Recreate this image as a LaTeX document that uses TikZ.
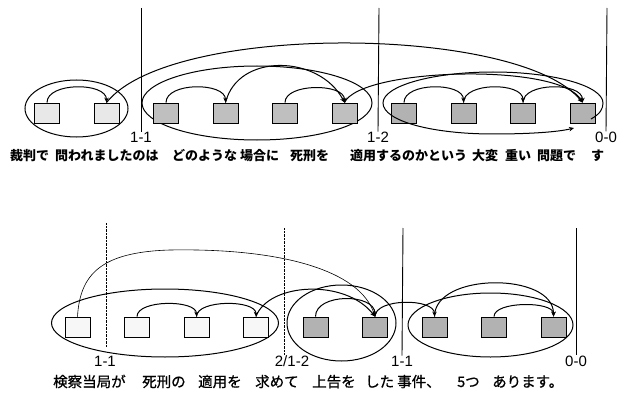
\documentclass[tikz,border=0pt]{standalone}
\usepackage{fontspec}
\newfontfamily\jp{Noto Sans CJK JP}
\newfontfamily\jpm[FakeBold=0.8]{Noto Sans CJK JP}
\newfontfamily\lab{Liberation Sans}
\usetikzlibrary{arrows.meta}
\begin{document}
\begin{tikzpicture}[x=1pt,y=-1pt,
  bx/.style={draw, line width=0.8pt, minimum width=25pt, minimum height=20pt, inner sep=0pt},
  lite/.style={bx, fill=gray!18},
  pale/.style={bx, fill=gray!6},
  mid/.style={bx, fill=gray!50},
  dark/.style={bx, fill=gray!60},
  ln/.style={line width=1pt},
  thin/.style={line width=0.6pt},
  arr/.style={ln, -{Stealth[length=5pt,width=4.5pt]}},
  tarr/.style={thin, -{Stealth[length=5pt,width=4.5pt]}},
  vline/.style={line width=0.9pt},
  dline/.style={line width=0.9pt, dash pattern=on 0.7pt off 0.7pt},
  lblA/.style={font=\lab\fontsize{15}{15}\selectfont, inner sep=0pt},
  lblB/.style={font=\lab\fontsize{15}{15}\selectfont, inner sep=0pt},
  tt/.style={font=\jp\bfseries\fontsize{13}{13}\selectfont, inner sep=0pt, anchor=base west},
  bt/.style={font=\jpm\fontsize{14.5}{14.5}\selectfont, inner sep=0pt, anchor=base west}]
\useasboundingbox (0,0) rectangle (618,393);
\fill[color=white] (0,0) rectangle (618,393);

% ---------------- top diagram ----------------
\node[lblA] (ta) at (141,137) {1-1};
\node[lblA] (tb) at (378,137) {1-2};
\node[lblA] (tc) at (606,137) {0-0};
\draw[vline] (141,8) -- (ta.north);
\draw[vline] (379,8) -- (tb.north);
\draw[vline] (607,8) -- (tc.north);

\draw[ln] (76.5,108.5) ellipse [x radius=51.5pt, y radius=28.5pt];
\draw[ln] (257,103) ellipse [x radius=115pt, y radius=37pt];

\node[lite] (t1) at (47,113) {};
\node[lite] (t2) at (106.5,113) {};
\node[mid] (t3) at (166,113) {};
\node[mid] (t4) at (225.5,113) {};
\node[mid] (t5) at (285,113) {};
\node[mid] (t6) at (344.5,113) {};
\node[dark] (t7) at (404,113) {};
\node[dark] (t8) at (463.5,113) {};
\node[dark] (t9) at (523,113) {};
\node[dark] (t10) at (582.5,113) {};

\coordinate (e3s) at (591,119);
\draw[arr] (e3s) .. controls (600,114) and (603,109) .. (603,103)
  .. controls (603,86) and (554,72) .. (493,72)
  .. controls (432,72) and (383,86) .. (383,103)
  .. controls (383,121) and (432,134) .. (493,134)
  .. controls (530,134) and (558,132) .. (574,128);

\draw[arr] (t1.north) .. controls (47,82) and (106.5,82) .. (t2.north);
\draw[arr] (t3.north) .. controls (166,82) and (225.5,82) .. (t4.north);
\draw[arr] (t5.north) .. controls (285,83) and (344.5,83) .. (t6.north);
\draw[arr] (t7.north) .. controls (404,82) and (463.5,82) .. (t8.north);
\draw[arr] (t8.north) .. controls (463.5,82) and (523,82) .. (t9.north);
\draw[arr] (t9.north) .. controls (523,82) and (582.5,82) .. (t10.north);
\draw[arr] (t4.north) .. controls (238,52) and (320,55) .. (t6.north);
\draw[arr] (t6.north) .. controls (360,68) and (560,62) .. (t10.north);
\draw[arr] (t2.north) .. controls (170,22) and (520,25) .. (t10.north);

\node[tt] (w1) at (10,160) {裁判で};
\node[tt] (w2) at (55,160) {問われましたのは};
\node[tt] (w3) at (172,160) {どのような};
\node[tt] (w4) at (240,160) {場合に};
\node[tt] (w5) at (290,160) {死刑を};
\node[tt] (w6) at (350,160) {適用するのかという};
\node[tt] (w7) at (472,160) {大変};
\node[tt] (w8) at (505,160) {重い};
\node[tt] (w9) at (537,160) {問題で};
\node[tt] (w10) at (591,160) {す};

% ---------------- bottom diagram ----------------
\node[lblB] (ba) at (105,361) {1-1};
\node[lblB] (bb) at (292,361) {2/1-2};
\node[lblB] (bc) at (402,361) {1-1};
\node[lblB] (bd) at (576,361) {0-0};
\coordinate (d1e) at (106,347);
\coordinate (d2e) at (284,355);
\draw[dline] (106,223) -- (d1e);
\draw[dline] (284,228) -- (d2e);
\draw[vline] (403,228) -- (bc.north);
\draw[vline] (576,228) -- (bd.north);

\draw[ln] (165,323) ellipse [x radius=113.5pt, y radius=34pt];
\draw[ln] (341.5,323) ellipse [x radius=54.5pt, y radius=38pt];
\draw[ln] (490.5,325) ellipse [x radius=82.5pt, y radius=32pt];

\node[pale] (c1) at (77.5,327) {};
\node[pale] (c2) at (137,327) {};
\node[pale] (c3) at (196.5,327) {};
\node[pale] (c4) at (256,327) {};
\node[dark] (c5) at (315.5,327) {};
\node[dark] (c6) at (375,327) {};
\node[dark] (c7) at (434.5,327) {};
\node[dark] (c8) at (494,327) {};
\node[dark] (c9) at (553.5,327) {};

\draw[arr] (c2.north) .. controls (137,299.5) and (196.5,299.5) .. (c3.north);
\draw[arr] (c3.north) .. controls (196.5,299.5) and (256,299.5) .. (c4.north);
\draw[arr] (c5.north) .. controls (315.5,293) and (375,293) .. (c6.north);
\draw[arr] (c6.north) .. controls (375,298) and (434.5,298) .. (c7.north);
\draw[arr] (c8.north) .. controls (494,301) and (553.5,301) .. (c9.north);
\draw[arr] (c7.north) .. controls (434.5,272) and (553.5,272) .. (c9.north);
\draw[arr] (c4.north) .. controls (268,283) and (345,278) .. (c6.north);
\draw[tarr] (c1.north) .. controls (80,275) and (100,252) .. (170,250)
  .. controls (280,248) and (360,270) .. (c6.north);

\node[bt] (v1) at (53,387) {検察当局が};
\node[bt] (v2) at (142,387) {死刑の};
\node[bt] (v3) at (198,387) {適用を};
\node[bt] (v4) at (255,387) {求めて};
\node[bt] (v5) at (312,387) {上告を};
\node[bt] (v6) at (365,387) {した};
\node[bt] (v7) at (397,387) {事件、};
\node[bt] (v8) at (457,387) {5つ};
\node[bt] (v9) at (492,387) {あります。};
\end{tikzpicture}
\end{document}
